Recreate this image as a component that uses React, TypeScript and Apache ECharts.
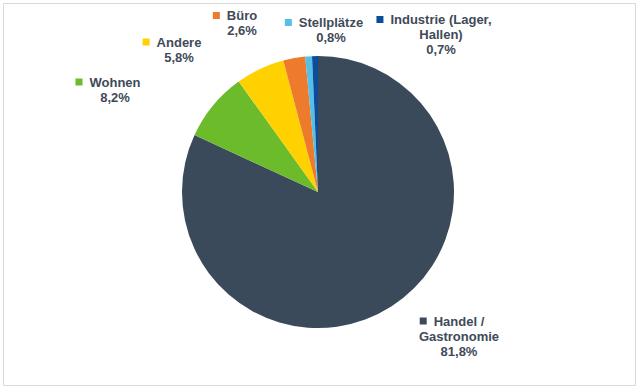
import React, { useEffect, useRef } from "react";
import * as echarts from "echarts";

const categories = ["Handel /\nGastronomie", "Wohnen", "Andere", "Büro", "Stellplätze", "Industrie (Lager,\nHallen)"];
const values = [81.8, 8.2, 5.8, 2.6, 0.8, 0.7];
const colors = ["#3B4A5A", "#6BBB2B", "#FFD100", "#EE7A2B", "#55BFE8", "#0A4D9A"];
const labelPositions: [number, number][] = [
  [459, 336],
  [115, 89.5],
  [179, 49.5],
  [242, 23],
  [331, 30],
  [441, 34.5],
];

const FONT = "'Liberation Sans Narrow', 'Arial Narrow', 'Liberation Sans', Arial, sans-serif";
const TEXT_COLOR = "#3F4A59";

function fmt(v: number) {
  return v.toFixed(1).replace(".", ",") + "%";
}

export default function App() {
  const ref = useRef<HTMLDivElement>(null);
  useEffect(() => {
    if (!ref.current) return;
    const chart = echarts.init(ref.current, undefined, { renderer: "svg" });
    const textStyle = {
      fontFamily: FONT,
      fontWeight: "bold" as const,
      fontSize: 13,
      lineHeight: 15,
      color: TEXT_COLOR,
      align: "center" as const,
    };
    const data = categories.map((name, i) => ({
      name,
      value: values[i],
      itemStyle: { color: colors[i] },
      label: {
        rich: {
          m: { width: 7, height: 7, backgroundColor: colors[i], align: "center" as const },
          g: { width: 7, height: 7, align: "center" as const },
          s: { width: 14, height: 7, align: "center" as const },
          t: textStyle,
        },
      },
    }));
    chart.setOption({
      animation: false,
      backgroundColor: "#ffffff",
      graphic: [
        {
          type: "rect",
          shape: { x: 3.5, y: 3.5, width: 632, height: 382 },
          style: { fill: "none", stroke: "#D9D9D9", lineWidth: 1 },
          silent: true,
        },
      ],
      series: [
        {
          type: "pie",
          center: [318, 192],
          radius: 136,
          startAngle: 90,
          clockwise: true,
          avoidLabelOverlap: false,
          data,
          itemStyle: { borderWidth: 0 },
          label: {
            show: true,
            position: "outside",
            fontFamily: FONT,
            fontWeight: "bold",
            fontSize: 13,
            lineHeight: 15,
            color: TEXT_COLOR,
            formatter: (p: any) => {
              const lines = String(p.name).split("\n");
              const first = `{m|}{g|}{t|${lines[0]}}{s|}`;
              const rest = lines.slice(1).map((l) => `{t|${l}}`);
              return [first, ...rest, `{t|${fmt(p.value)}}`].join("\n");
            },
          },
          labelLine: { show: false },
          emphasis: { disabled: true },
          labelLayout: (params: any) => {
            const pos = labelPositions[params.dataIndex];
            return { x: pos[0], y: pos[1], align: "center", verticalAlign: "middle" };
          },
        },
      ],
    });
    return () => chart.dispose();
  }, []);
  return (
    <div
      ref={ref}
      style={{ position: "fixed", left: 0, top: 0, width: 639, height: 389, background: "#fff" }}
    />
  );
}
